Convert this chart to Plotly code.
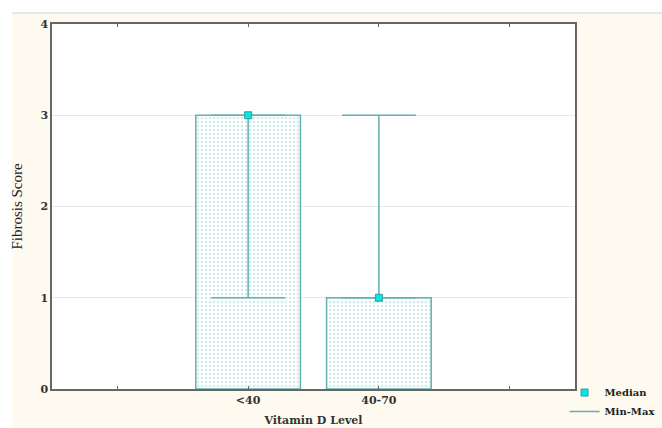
import plotly.graph_objects as go

categories = ["<40", "40-70"]
medians = [3, 1]
mins = [1, 1]
maxs = [3, 3]
xtick_labels = ["", "<40", "40-70", ""]

TEAL = "#62b0b0"
CREAM = "#fffaf0"
SERIF = "DejaVu Serif"

pos = [i + 1 for i in range(len(categories))]

fig = go.Figure()
fig.add_trace(go.Bar(
    x=pos, y=medians, width=0.8, showlegend=False, hoverinfo="skip",
    marker=dict(color="white", line=dict(color=TEAL, width=1.5),
                pattern=dict(shape=".", fgcolor="#a6d4d4", bgcolor="white", size=4, solidity=0.3)),
))
fig.add_trace(go.Scatter(
    x=pos, y=medians, mode="markers", name="Median",
    marker=dict(symbol="square", size=7, color="#00e8e8", line=dict(color="#3a9a9a", width=1)),
    error_y=dict(type="data", symmetric=False,
                 array=[mx - md for mx, md in zip(maxs, medians)],
                 arrayminus=[md - mn for md, mn in zip(medians, mins)],
                 color=TEAL, thickness=1.5, width=37),
))
fig.add_trace(go.Scatter(
    x=[None], y=[None], mode="lines", name="Min-Max",
    line=dict(color=TEAL, width=1.5),
))

# background decoration: white strip at top and left
fig.add_shape(type="rect", xref="paper", yref="paper", x0=-0.2, x1=1.2, y0=1.0301, y1=1.2,
              fillcolor="white", line=dict(width=0), layer="below")
fig.add_shape(type="rect", xref="paper", yref="paper", x0=-0.2, x1=-0.0765, y0=-0.2, y1=1.2,
              fillcolor="white", line=dict(width=0), layer="below")
fig.add_shape(type="line", xref="paper", yref="paper", x0=-0.0765, x1=1.2, y0=1.0301, y1=1.0301,
              line=dict(color="#e0e0e0", width=1.5), layer="below")

fig.update_layout(
    width=662, height=428,
    margin=dict(l=52, r=87, t=24, b=39, autoexpand=False),
    paper_bgcolor=CREAM, plot_bgcolor="white",
    font=dict(family=SERIF, color="#333333"),
    legend=dict(x=0.98, y=0.03, xanchor="left", yanchor="top",
                font=dict(family=SERIF, size=10, color="#222222", weight="bold"),
                bgcolor="rgba(0,0,0,0)", tracegroupgap=0, itemwidth=30),
)
fig.update_xaxes(
    range=[-0.5, 3.5], tickvals=[0, 1, 2, 3], ticktext=xtick_labels,
    showline=True, linecolor="#666666", linewidth=1.5, mirror="ticks",
    ticks="inside", ticklen=3, tickcolor="#666666", showgrid=False, zeroline=False,
    tickfont=dict(family=SERIF, size=11, color="#333333", weight="bold"),
    title=dict(text="Vitamin D Level", font=dict(family=SERIF, size=11, color="#333333", weight="bold"), standoff=10),
)
fig.update_yaxes(
    range=[0, 4], tickvals=[0, 1, 2, 3, 4],
    showline=True, linecolor="#666666", linewidth=1.5, mirror=True,
    showgrid=True, gridcolor="#e8e8e8", gridwidth=1, zeroline=False, ticks="",
    tickfont=dict(family=SERIF, size=11, color="#333333", weight="bold"),
    title=dict(text="Fibrosis Score", font=dict(family="Liberation Serif", size=15, color="#222222"), standoff=14),
)

fig.write_html("out.html", config={"displayModeBar": False},
               post_script="document.body.style.margin='0';document.body.style.padding='0';")
